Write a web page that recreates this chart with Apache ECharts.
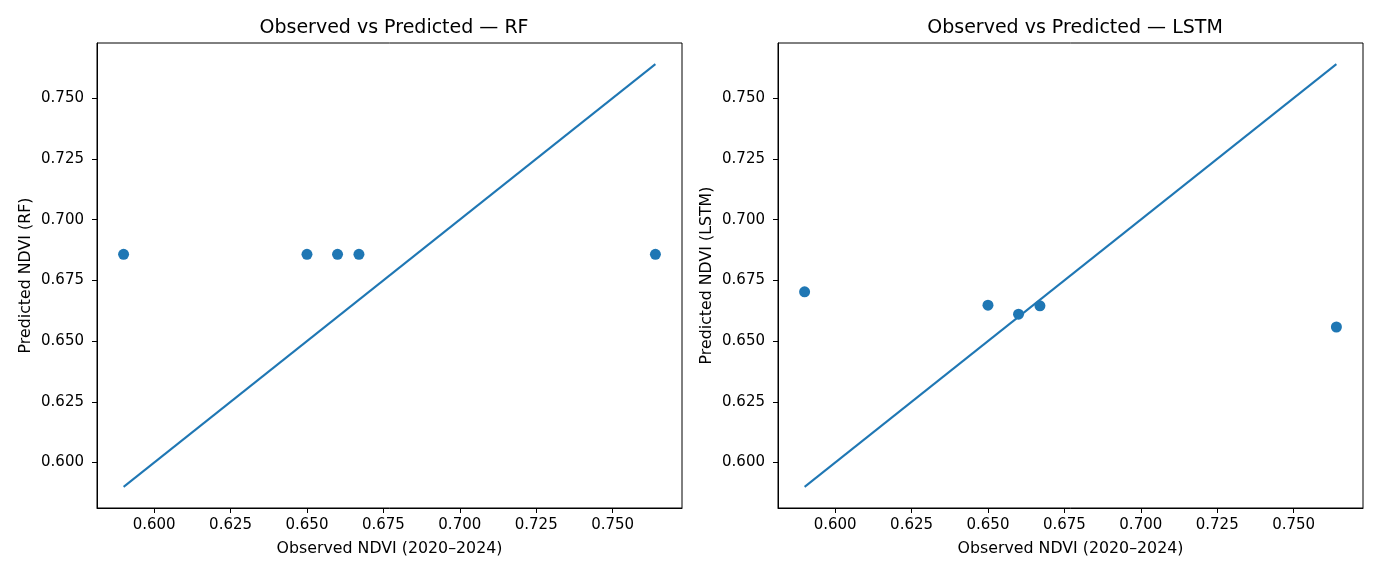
<!DOCTYPE html>
<html>
<head>
<meta charset="utf-8">
<script src="https://cdn.jsdelivr.net/npm/echarts@6/dist/echarts.min.js"></script>
<style>
  html, body { margin: 0; padding: 0; background: #fff; }
  #main { width: 1380px; height: 575px; }
</style>
</head>
<body>
<div id="main"></div>
<script>
// observed NDVI values (same for both models)
var observed = [0.590, 0.650, 0.660, 0.667, 0.764]
// predicted values
var predRF = [0.6857, 0.6857, 0.6857, 0.6857, 0.6857]
var predLSTM = [0.6703, 0.6648, 0.6611, 0.6645, 0.6558]
// 1:1 line from min to max observed
var lineEnds = [0.590, 0.764]
// tick labels
var ticks = [0.600, 0.625, 0.650, 0.675, 0.700, 0.725, 0.750]

var axisMin = 0.5813
var axisMax = 0.7727
var blue = '#1f77b4'
var font = 'DejaVu Sans'

function pairs(xs, ys) {
  return xs.map(function (x, i) { return [x, ys[i]] })
}

function makeAxis(gridIndex, name, isY) {
  return {
    type: 'value',
    gridIndex: gridIndex,
    min: axisMin,
    max: axisMax,
    name: name,
    nameLocation: 'middle',
    nameGap: isY ? 63 : 33,
    nameTextStyle: { fontFamily: font, fontSize: 15.8, color: '#000' },
    axisLine: { show: true, lineStyle: { color: '#000', width: 1 } },
    axisTick: { show: true, length: 5, customValues: ticks, lineStyle: { color: '#000' } },
    axisLabel: {
      customValues: ticks,
      margin: isY ? 13 : 10,
      fontFamily: font,
      fontSize: 15,
      color: '#000',
      formatter: function (v) { return v.toFixed(3) }
    },
    splitLine: { show: false }
  }
}

var chart = echarts.init(document.getElementById('main'))

var panels = [
  { title: 'Observed vs Predicted — RF', ylabel: 'Predicted NDVI (RF)', pred: predRF, left: 97 },
  { title: 'Observed vs Predicted — LSTM', ylabel: 'Predicted NDVI (LSTM)', pred: predLSTM, left: 778 }
]

var option = {
  backgroundColor: '#fff',
  animation: false,
  title: panels.map(function (p) {
    return {
      text: p.title,
      left: p.left + 292,
      top: 14,
      textAlign: 'center',
      textStyle: { fontFamily: font, fontSize: 19, fontWeight: 'normal', color: '#000' }
    }
  }),
  grid: panels.map(function (p) {
    return {
      left: p.left, top: 43, width: 585, height: 465,
      show: true, borderColor: '#000', borderWidth: 1, backgroundColor: '#fff'
    }
  }),
  xAxis: panels.map(function (p, i) { return makeAxis(i, 'Observed NDVI (2020–2024)', false) }),
  yAxis: panels.map(function (p, i) { return makeAxis(i, p.ylabel, true) }),
  series: []
}

panels.forEach(function (p, i) {
  option.series.push({
    type: 'line',
    xAxisIndex: i,
    yAxisIndex: i,
    data: pairs(lineEnds, lineEnds),
    showSymbol: false,
    symbol: 'none',
    lineStyle: { color: blue, width: 2 },
    z: 2
  })
  option.series.push({
    type: 'scatter',
    xAxisIndex: i,
    yAxisIndex: i,
    data: pairs(observed, p.pred),
    symbolSize: 11,
    itemStyle: { color: blue, opacity: 1 },
    z: 3
  })
})

chart.setOption(option)
</script>
</body>
</html>
